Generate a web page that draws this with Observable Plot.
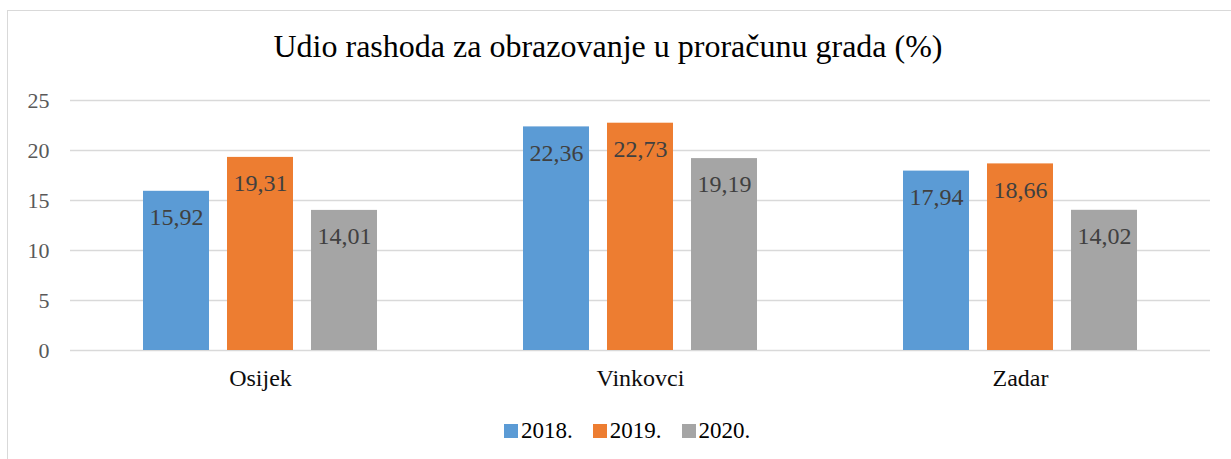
<!DOCTYPE html>
<html>
<head>
<meta charset="utf-8">
<script src="https://cdn.jsdelivr.net/npm/d3@7"></script>
<script src="https://cdn.jsdelivr.net/npm/@observablehq/plot@0.6"></script>
<style>
  html, body { margin: 0; padding: 0; background: #fff; overflow: hidden; width: 1231px; height: 459px; }
  body { position: relative; font-family: "Liberation Serif", "Times New Roman", serif; }
  #frame { position: absolute; left: 7px; top: 10px; width: 1260px; height: 480px; border: 1px solid #d9d9d9; box-sizing: border-box; }
  #title { position: absolute; left: 0; top: 30px; width: 1216px; text-align: center; font-size: 32px; line-height: 32px; color: #000; white-space: nowrap; }
  #chart { position: absolute; left: 0; top: 70px; }
  #legend { position: absolute; left: 504px; top: 419px; display: flex; align-items: center; font-size: 23px; line-height: 23px; color: #000; white-space: nowrap; font-family: "Liberation Serif", serif !important; }
  .item { display: flex; align-items: center; margin-right: 20px; }
  .sw { width: 14px; height: 14px; margin-right: 3px; }
  #chart svg, #chart svg text, #chart svg g { font-family: "Liberation Serif", "Times New Roman", serif !important; }
  #chart g[aria-label^="y-axis"] text { fill: #595959; }
  #chart g[aria-label^="fx-axis"] text { fill: #0d0d0d; font-size: 24px; }
</style>
</head>
<body>
<div id="frame"></div>
<div id="title">Udio rashoda za obrazovanje u proračunu grada (%)</div>
<div id="chart"></div>
<div id="legend"></div>
<script>
const cities = ["Osijek", "Vinkovci", "Zadar"];
const years = ["2018.", "2019.", "2020."];
const v2018 = [15.92, 22.36, 17.94];
const v2019 = [19.31, 22.73, 18.66];
const v2020 = [14.01, 19.19, 14.02];
const yTicks = [0, 5, 10, 15, 20, 25];
const colors = ["#5b9bd5", "#ed7d31", "#a5a5a5"];

const series = [v2018, v2019, v2020];
const data = cities.flatMap((city, i) =>
  years.map((year, j) => ({city, year, value: series[j][i]}))
);
const fmt = v => v.toFixed(2).replace(".", ",");
const gridRows = cities.flatMap(city => yTicks.map(t => ({city, t})));

const chart = Plot.plot({
  width: 1231,
  height: 330,
  marginTop: 30,
  marginBottom: 50,
  marginLeft: 69,
  marginRight: 20,
  style: {fontFamily: '"Liberation Serif", "Times New Roman", serif', fontSize: "22px", background: "transparent", overflow: "visible"},
  fx: {domain: cities, paddingInner: 0.383, paddingOuter: 0.1915, label: null, axis: "bottom", tickSize: 0, tickPadding: 18},
  x: {domain: years, paddingInner: 0.22, paddingOuter: 0, axis: null},
  y: {domain: [0, 25], ticks: yTicks, tickSize: 0, tickPadding: 94, label: null},
  color: {domain: years, range: colors},
  marks: [
    Plot.ruleY(gridRows, {fx: "city", y: "t", stroke: "#d9d9d9", strokeWidth: 1.3, strokeOpacity: 1, insetLeft: -73, insetRight: -73}),
    Plot.barY(data, {fx: "city", x: "year", y: "value", fill: "year"}),
    Plot.text(data, {fx: "city", x: "year", y: "value", text: d => fmt(d.value), dy: 26, fill: "#404040", fontSize: 24})
  ]
});
document.getElementById("chart").appendChild(chart);

const legend = document.getElementById("legend");
years.forEach((y, i) => {
  const item = document.createElement("div");
  item.className = "item";
  const sw = document.createElement("div");
  sw.className = "sw";
  sw.style.background = colors[i];
  const t = document.createElement("span");
  t.textContent = y;
  item.appendChild(sw);
  item.appendChild(t);
  legend.appendChild(item);
});
</script>
</body>
</html>
